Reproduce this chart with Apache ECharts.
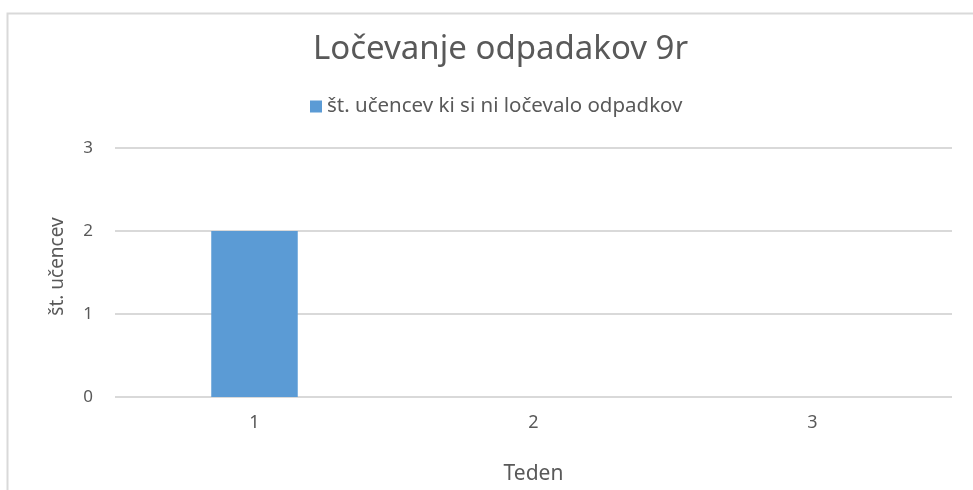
<!DOCTYPE html>
<html>
<head>
<meta charset="utf-8">
<script src="https://cdn.jsdelivr.net/npm/echarts@6/dist/echarts.min.js"></script>
<style>
  html, body { margin: 0; padding: 0; background: #fff; }
  #main { width: 973px; height: 490px; }
</style>
</head>
<body>
<div id="main"></div>
<script>
// podatki
var weeks = ['1', '2', '3'];
var students = [2, 0, 0];
var seriesName = 'št. učencev ki si ni ločevalo odpadkov';

var myChart = echarts.init(document.getElementById('main'));
var textColor = '#595959';
var font = 'Noto Sans';

var option = {
    backgroundColor: '#fff',
    animation: false,
    // okvir grafa
    graphic: [{
        type: 'rect',
        shape: { x: 7.5, y: 13.5, width: 1000, height: 500 },
        style: { fill: 'none', stroke: '#d9d9d9', lineWidth: 2 },
        silent: true
    }],
    title: {
        text: 'Ločevanje odpadakov 9r',
        left: 308,
        top: 28,
        textStyle: { color: textColor, fontSize: 33, fontWeight: 'normal', fontFamily: font }
    },
    legend: {
        top: 91,
        left: 305,
        itemWidth: 12,
        itemHeight: 12,
        itemGap: 8,
        icon: 'rect',
        textStyle: { color: textColor, fontSize: 20.5, fontFamily: font },
        data: [seriesName]
    },
    grid: {
        left: 115,
        right: 21,
        top: 148,
        bottom: 93,
        outerBoundsMode: 'none'
    },
    xAxis: {
        type: 'category',
        data: weeks,
        name: 'Teden',
        nameLocation: 'middle',
        nameGap: 67,
        nameTextStyle: { color: textColor, fontSize: 21, fontFamily: font },
        axisLine: { show: false },
        axisTick: { show: false },
        axisLabel: { color: textColor, fontSize: 18, fontFamily: font, margin: 17 }
    },
    yAxis: {
        type: 'value',
        min: 0,
        max: 3,
        interval: 1,
        name: 'št. učencev',
        nameLocation: 'middle',
        nameGap: 48,
        nameTextStyle: { color: textColor, fontSize: 19, fontFamily: font, padding: [0, 0, 0, 12] },
        axisLine: { show: false },
        axisTick: { show: false },
        axisLabel: { color: textColor, fontSize: 17, fontFamily: font, margin: 22 },
        splitLine: { lineStyle: { color: '#d9d9d9', width: 2 } }
    },
    series: [{
        name: seriesName,
        type: 'bar',
        data: students,
        barWidth: '31%',
        itemStyle: { color: '#5b9bd5' }
    }]
};

myChart.setOption(option);
</script>
</body>
</html>
